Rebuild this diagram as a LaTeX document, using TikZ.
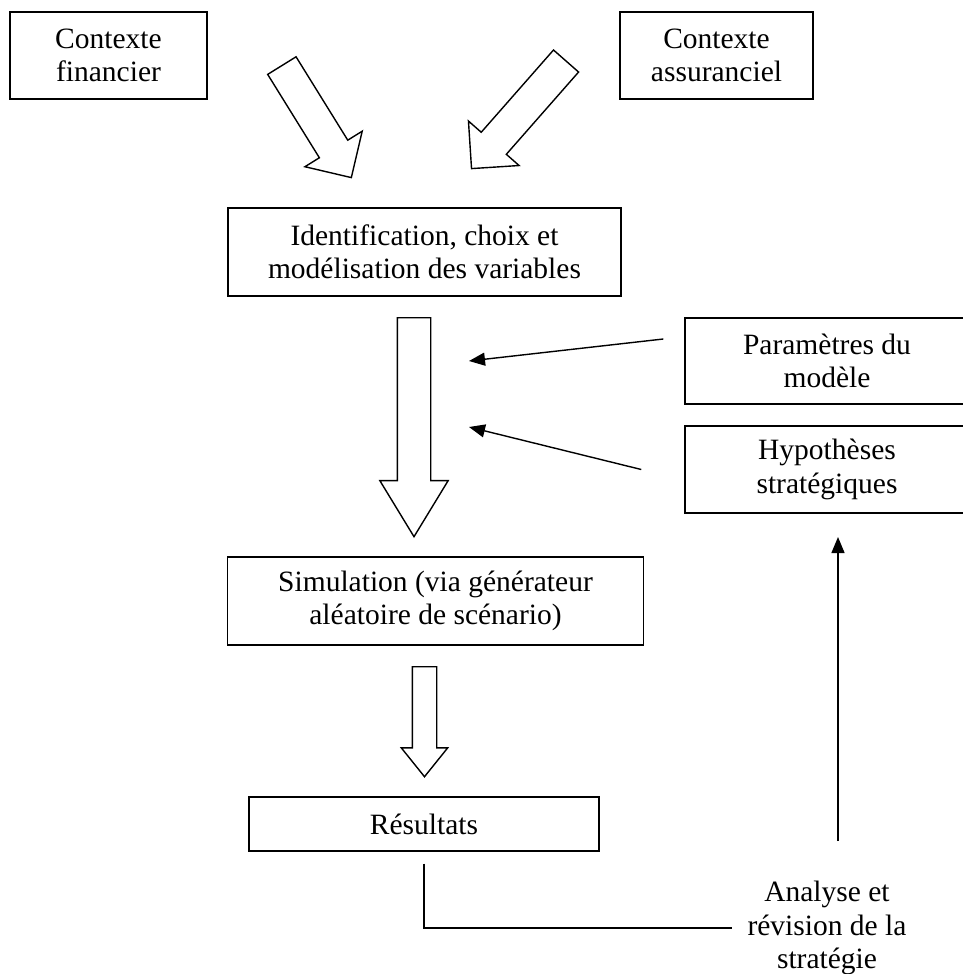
\documentclass[tikz,border=0pt]{standalone}
\usepackage{fontspec}
\setmainfont{Liberation Serif}
\usetikzlibrary{shapes.arrows,arrows.meta}

\begin{document}
\begin{tikzpicture}[x=0.5pt, y=-0.5pt, line width=0.7pt,
		stage/.style = {draw, inner sep=0pt, align=center, font=\fontsize{14.75}{16.75}\selectfont},
		fat/.style = {draw, single arrow, anchor=tail, inner xsep=0pt, inner ysep=8pt, single arrow head extend=8.5pt},
		link/.style = {-{Triangle[length=8pt, width=6.5pt]}}]
		\useasboundingbox (0,0) rectangle (963,974);
		\clip (0,0) rectangle (963,974);

		\node[stage, minimum width=98.5pt, minimum height=43.5pt] (fin) at (108.5,55.5) {Contexte\\financier};
		\node[stage, minimum width=96.5pt, minimum height=43.5pt] (ass) at (716.5,55.5) {Contexte\\assuranciel};
		\node[stage, minimum width=196.5pt, minimum height=44pt] (ident) at (424.5,252) {Identification, choix et\\modélisation des variables};
		\node[stage, minimum width=142pt, minimum height=43pt] (param) at (827,361) {Paramètres du\\modèle};
		\node[stage, minimum width=142pt, minimum height=43.5pt] (hypo) at (827,469.5) {Hypothèses\\stratégiques};
		\node[stage, minimum width=208pt, minimum height=44pt] (simu) at (435.5,601) {Simulation (via générateur\\aléatoire de scénario)};
		\node[stage, minimum width=175pt, minimum height=27pt] (res) at (424,824) {Résultats};
		\node[stage, draw=none] (ana) at (827,928) {Analyse et\\révision de la\\stratégie};

		% big hollow arrows
		\node[fat, rotate=-58.2, minimum height=65.9pt] (finarrow) at (281.5,65) {};
		\node[fat, rotate=-131.3, minimum height=71.6pt] (assarrow) at (566.5,60.5) {};
		\node[fat, rotate=-90, minimum height=109.5pt, single arrow head extend=8.75pt, single arrow tip angle=62.7] (down1) at (414,317) {};
		\node[fat, rotate=-90, minimum height=55pt, inner ysep=5.75pt, single arrow head extend=5.5pt, single arrow tip angle=77.6] (down2) at (424.5,666) {};

		\coordinate (in1) at (469,361);
		\coordinate (in2) at (469,427);
		\coordinate (up1) at (838,841);
		\coordinate (up2) at (838,537);

		\draw[link] ([shift={(-21,-22)}]param.west) -- (in1);
		\draw[link] ([xshift=-21.5pt]hypo.west) -- (in2);
		\draw[link] (up1) -- (up2);
		\draw ([yshift=-6pt]res.south) |- ([xshift=-7.5pt]ana.west);
	\end{tikzpicture}
\end{document}
